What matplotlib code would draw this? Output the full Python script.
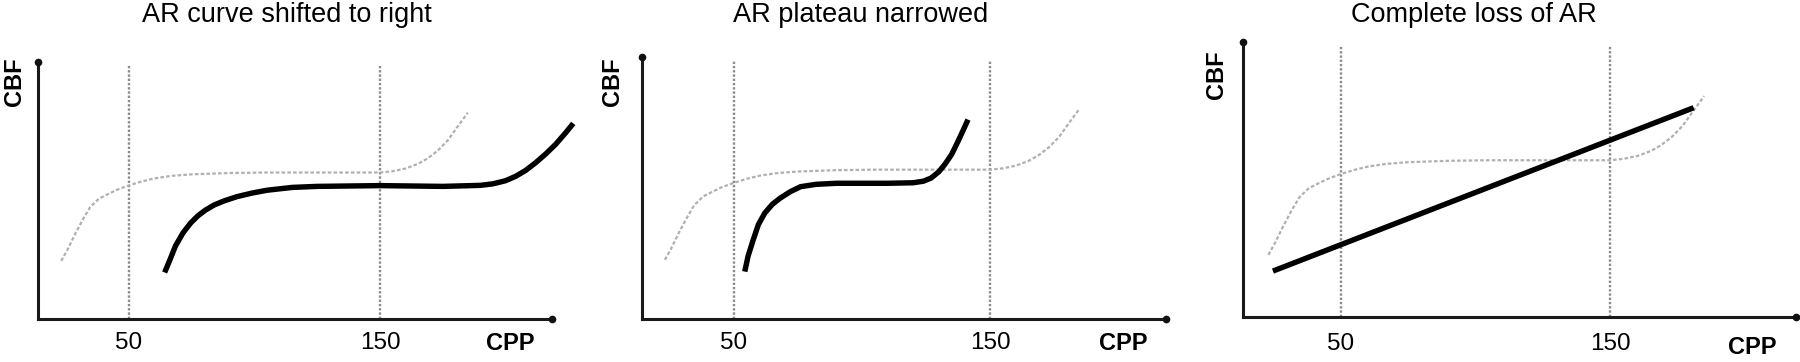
import numpy as np
import matplotlib
matplotlib.use('Agg')
import matplotlib.pyplot as plt

plt.rcParams['font.family'] = ['Liberation Sans', 'DejaVu Sans']

W, H = 1800, 362

# normal autoregulation curve (grey, same in all panels)
normal_cpp = [23, 25.5, 28.5, 31.5, 34.5, 38, 41, 45, 50, 55, 60, 67, 75, 90,
              105, 120, 135, 150, 155, 160, 165, 169, 173, 177, 181, 185]
normal_cbf = [22.6, 27, 33, 38.5, 43.5, 46.8, 48.3, 50.2, 52, 53.5, 54.7, 55.7,
              56.3, 56.8, 57, 57, 57, 57, 57.5, 58.5, 60.3, 62.5, 65.5, 69.5, 75, 80.3]

# impaired curves (black)
shift_cpp = [64.2, 66.5, 68.5, 71.5, 74.6, 77.5, 80.5, 84, 88, 93, 99, 105, 115, 125, 150,
             175, 190, 195, 200, 204, 208, 212, 216, 220, 224, 227]
shift_cbf = [18.1, 23.5, 28.4, 33.5, 37.4, 40.2, 42.4, 44.4, 46, 47.6, 49, 50.1, 51.2,
             51.6, 51.9, 51.6, 52, 52.6, 53.8, 55.5, 57.8, 60.8, 64.2, 68, 72.5, 76.1]

narrow_cpp = [54.2, 55.5, 57.5, 59.5, 62, 65, 68, 72, 76, 82, 90, 100, 110, 120,
              124, 127, 130, 132.5, 135, 137.5, 139.5, 141.4]
narrow_cbf = [18.1, 24, 30.2, 36, 40.4, 43.8, 46.1, 48.6, 50.5, 51.4, 51.8, 51.8,
              51.8, 52, 52.6, 53.8, 56.2, 59.2, 62.8, 67.8, 72, 76.1]

loss_cpp = [24.7, 181.1]
loss_cbf = [16.7, 76.1]

limits = [50, 150]
titles = ['AR curve shifted to right', 'AR plateau narrowed', 'Complete loss of AR']
curves = [(shift_cpp, shift_cbf), (narrow_cpp, narrow_cbf), (loss_cpp, loss_cbf)]

# pixel geometry of each panel: y-axis x, x at 50, x at 150, axis end, top, bottom
geom = [
    dict(left=38, p50=129, p150=380, right=552, top=62, bottom=319,
         title=(287, 15), cbf=(15, 82), cpp=(510, 343), pad=9.5),
    dict(left=642, p50=734, p150=990, right=1166, top=57, bottom=319,
         title=(861, 15), cbf=(613, 82), cpp=(1123, 344), pad=9.5),
    dict(left=1243, p50=1341, p150=1610, right=1796, top=42, bottom=317,
         title=(1474, 15), cbf=(1216, 75), cpp=(1752, 348), pad=11.5),
]

fig = plt.figure(figsize=(W / 100, H / 100), dpi=100)

for g, title, (cx, cy) in zip(geom, titles, curves):
    sx = (g['p150'] - g['p50']) / 100.0
    x0 = 50 - (g['p50'] - g['left']) / sx
    x1 = 150 + (g['right'] - g['p150']) / sx
    ax = fig.add_axes([g['left'] / W, 1 - g['bottom'] / H,
                       (g['right'] - g['left']) / W, (g['bottom'] - g['top']) / H])
    ax.set_xlim(x0, x1)
    ax.set_ylim(0, 100)
    for s in ax.spines.values():
        s.set_visible(False)

    # axes with dot ends
    ax.plot([x0, x1], [0, 0], color='#1a1a1a', lw=2.2, clip_on=False, zorder=3)
    ax.plot([x0, x0], [0, 100], color='#1a1a1a', lw=2.2, clip_on=False, zorder=3)
    ax.plot([x1, x0], [0, 100], 'o', color='#111111', ms=4.5, clip_on=False, zorder=4)

    ax.vlines(limits, 0, 98.5, colors='#8c8c8c', lw=1.7, linestyles=(0, (1, 0.8)))
    ax.plot(normal_cpp, normal_cbf, color='#b0b0b0', lw=1.6,
            linestyle=(0, (1.6, 1)), clip_on=False)
    ax.plot(cx, cy, color='black', lw=3.9, solid_capstyle='butt',
            solid_joinstyle='round', clip_on=False, zorder=5)

    ax.set_yticks([])
    ax.set_xticks(limits)
    ax.set_xticklabels([str(v) for v in limits], fontsize=17.5)
    ax.tick_params(axis='x', length=0, pad=g['pad'])

    fig.text(g['title'][0] / W, 1 - g['title'][1] / H, title, fontsize=19.5,
             ha='center', va='center')
    fig.text(g['cbf'][0] / W, 1 - g['cbf'][1] / H, 'CBF', fontsize=17,
             fontweight='bold', rotation=90, ha='center', va='center')
    fig.text(g['cpp'][0] / W, 1 - g['cpp'][1] / H, 'CPP', fontsize=17,
             fontweight='bold', ha='center', va='center')

fig.savefig('out.png', dpi=100)
